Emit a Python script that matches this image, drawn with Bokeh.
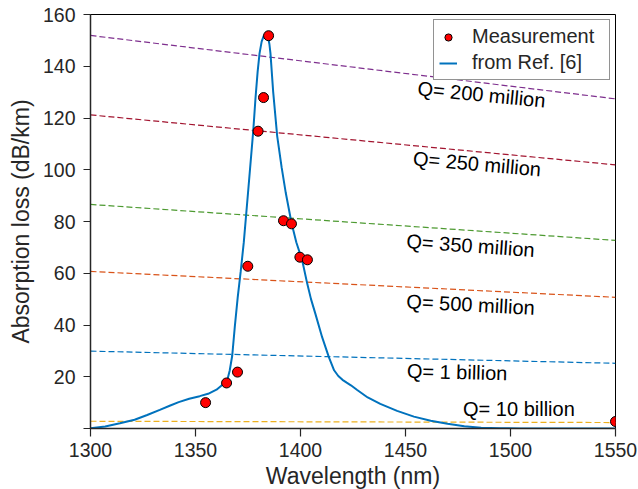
from bokeh.plotting import figure
from bokeh.models import Range1d, FixedTicker, Legend, LegendItem, Title
from bokeh.core.properties import value
from bokeh.embed import file_html
from bokeh.resources import INLINE
import math

# Measurement points
meas_x = [1354.8, 1364.8, 1370.0, 1374.9, 1379.8, 1382.4, 1384.8, 1391.9, 1395.7, 1399.7, 1403.3, 1550.0]
meas_y = [10.0, 17.6, 21.8, 62.7, 114.9, 127.9, 151.8, 80.3, 79.1, 66.2, 65.2, 2.7]

# Curve from Ref. [6]
ref_x = [1300, 1307, 1314, 1321, 1327, 1333, 1338, 1342, 1347, 1352, 1356, 1360, 1363, 1365,
         1366.3, 1367.5, 1368.7, 1370.1, 1371.5, 1373, 1375, 1377.5, 1378.6, 1379.6, 1380.5,
         1381.5, 1382.5, 1383.5, 1384.5, 1385.2, 1385.7, 1387, 1388.9, 1391, 1393, 1395.7,
         1398, 1400.8, 1403.2, 1405, 1407.1, 1410.3, 1413.5, 1416, 1418, 1420, 1422, 1424,
         1427, 1432, 1438, 1446, 1454, 1462, 1470, 1478, 1486, 1495, 1505, 1550]
ref_y = [0.1, 0.8, 2.0, 3.4, 5.2, 7.2, 8.9, 10.2, 11.5, 12.5, 13.4, 15.0, 17.0, 18.3,
         22.4, 28.2, 39.2, 50.7, 60.5, 72.0, 91.0, 115.0, 128.0, 138.0, 145.0,
         149.5, 151.8, 152.5, 151.5, 148.5, 145.0, 130.0, 113.0, 101.0, 91.0, 79.5,
         72.0, 65.0, 56.0, 50.0, 44.3, 35.3, 27.6, 22.5, 20.3, 18.8, 17.7, 16.7,
         14.9, 12.0, 9.5, 6.8, 4.6, 3.0, 1.8, 0.9, 0.3, 0.1, 0.0, 0.0]

# Constant-Q lines (endpoints at 1300 and 1550 nm)
q_labels = ["Q= 200 million", "Q= 250 million", "Q= 350 million",
            "Q= 500 million", "Q= 1 billion", "Q= 10 billion"]
q_start = [151.9, 121.2, 86.6, 60.7, 29.9, 2.8]
q_end = [127.4, 101.9, 72.7, 50.7, 25.2, 2.3]
q_colors = ["#7E2F8E", "#A2142F", "#4D9A31", "#D95319", "#0072BD", "#EDB120"]
q_label_x = [1486.2, 1484.1, 1481.0, 1481.0, 1474.6, 1504.0]
q_label_y = [129.1, 102.3, 70.7, 47.9, 21.8, 7.6]
q_label_angle_deg = [5.5, 5.0, 4.0, 3.0, 1.5, 0.0]

x_ticks = [1300, 1350, 1400, 1450, 1500, 1550]
y_ticks = [0, 20, 40, 60, 80, 100, 120, 140, 160]

FONT = "Liberation Sans"

p = figure(width=638, height=489, output_backend="svg", toolbar_location=None,
           x_range=Range1d(1300, 1550), y_range=Range1d(0, 160),
           min_border_left=90, min_border_right=23, min_border_top=14, min_border_bottom=61)

p.xgrid.visible = False
p.ygrid.visible = False
p.outline_line_color = "black"
p.outline_line_width = 1
p.background_fill_color = "white"
p.border_fill_color = "white"

for s, e, c in zip(q_start, q_end, q_colors):
    p.line([1300, 1550], [s, e], line_color=c, line_width=1.2, line_dash="6 3")

for lx, ly, t, a in zip(q_label_x, q_label_y, q_labels, q_label_angle_deg):
    p.text([lx], [ly], text=[t], angle=-math.radians(a), text_align="center",
           text_baseline="middle", text_font=value(FONT), text_font_size="20px",
           text_color="black")

r_line = p.line(ref_x, ref_y, line_color="#0072BD", line_width=2)
r_pts = p.scatter(meas_x, meas_y, marker="circle", size=10, fill_color="#FF0000",
                  line_color="black", line_width=1)

legend = Legend(items=[LegendItem(label="Measurement", renderers=[r_pts]),
                       LegendItem(label="from Ref. [6]", renderers=[r_line])],
                location="top_right")
legend.label_text_font = FONT
legend.label_text_font_size = "20px"
legend.label_text_color = "#262626"
legend.border_line_color = "#262626"
legend.border_line_width = 1
legend.padding = 5
legend.margin = 5
legend.spacing = 3
legend.glyph_width = 18
legend.label_standoff = 15
legend.label_width = 132
legend.background_fill_alpha = 1
p.add_layout(legend, "center")

for ax in (p.xaxis[0], p.yaxis[0]):
    ax.axis_line_color = "#262626"
    ax.axis_line_width = 1.5
    ax.major_tick_line_color = "#262626"
    ax.major_tick_line_width = 1.2
    ax.major_tick_in = 0
    ax.minor_tick_line_color = None
    ax.major_label_text_font = FONT
    ax.major_label_text_font_size = "19.5px"
    ax.major_label_text_color = "#262626"
    ax.axis_label_text_font = FONT
    ax.axis_label_text_font_size = "23px"
    ax.axis_label_text_font_style = "normal"
    ax.axis_label_text_color = "#262626"

p.xaxis[0].ticker = FixedTicker(ticks=x_ticks)
p.yaxis[0].ticker = FixedTicker(ticks=y_ticks)
p.yaxis[0].major_label_overrides = {0: ""}
p.xaxis[0].major_tick_out = 8
p.yaxis[0].major_tick_out = 7
p.xaxis[0].major_label_standoff = 6
p.yaxis[0].major_label_standoff = 8
p.yaxis[0].axis_label = "Absorption loss (dB/km)"
p.yaxis[0].axis_label_standoff = 6

xlabel = Title(text="Wavelength (nm)", align="center", text_font=FONT,
               text_font_size="23px", text_font_style="normal",
               text_color="#262626", standoff=2, offset=0)
p.add_layout(xlabel, "below")

open("out.html", "w").write(file_html(p, INLINE))
